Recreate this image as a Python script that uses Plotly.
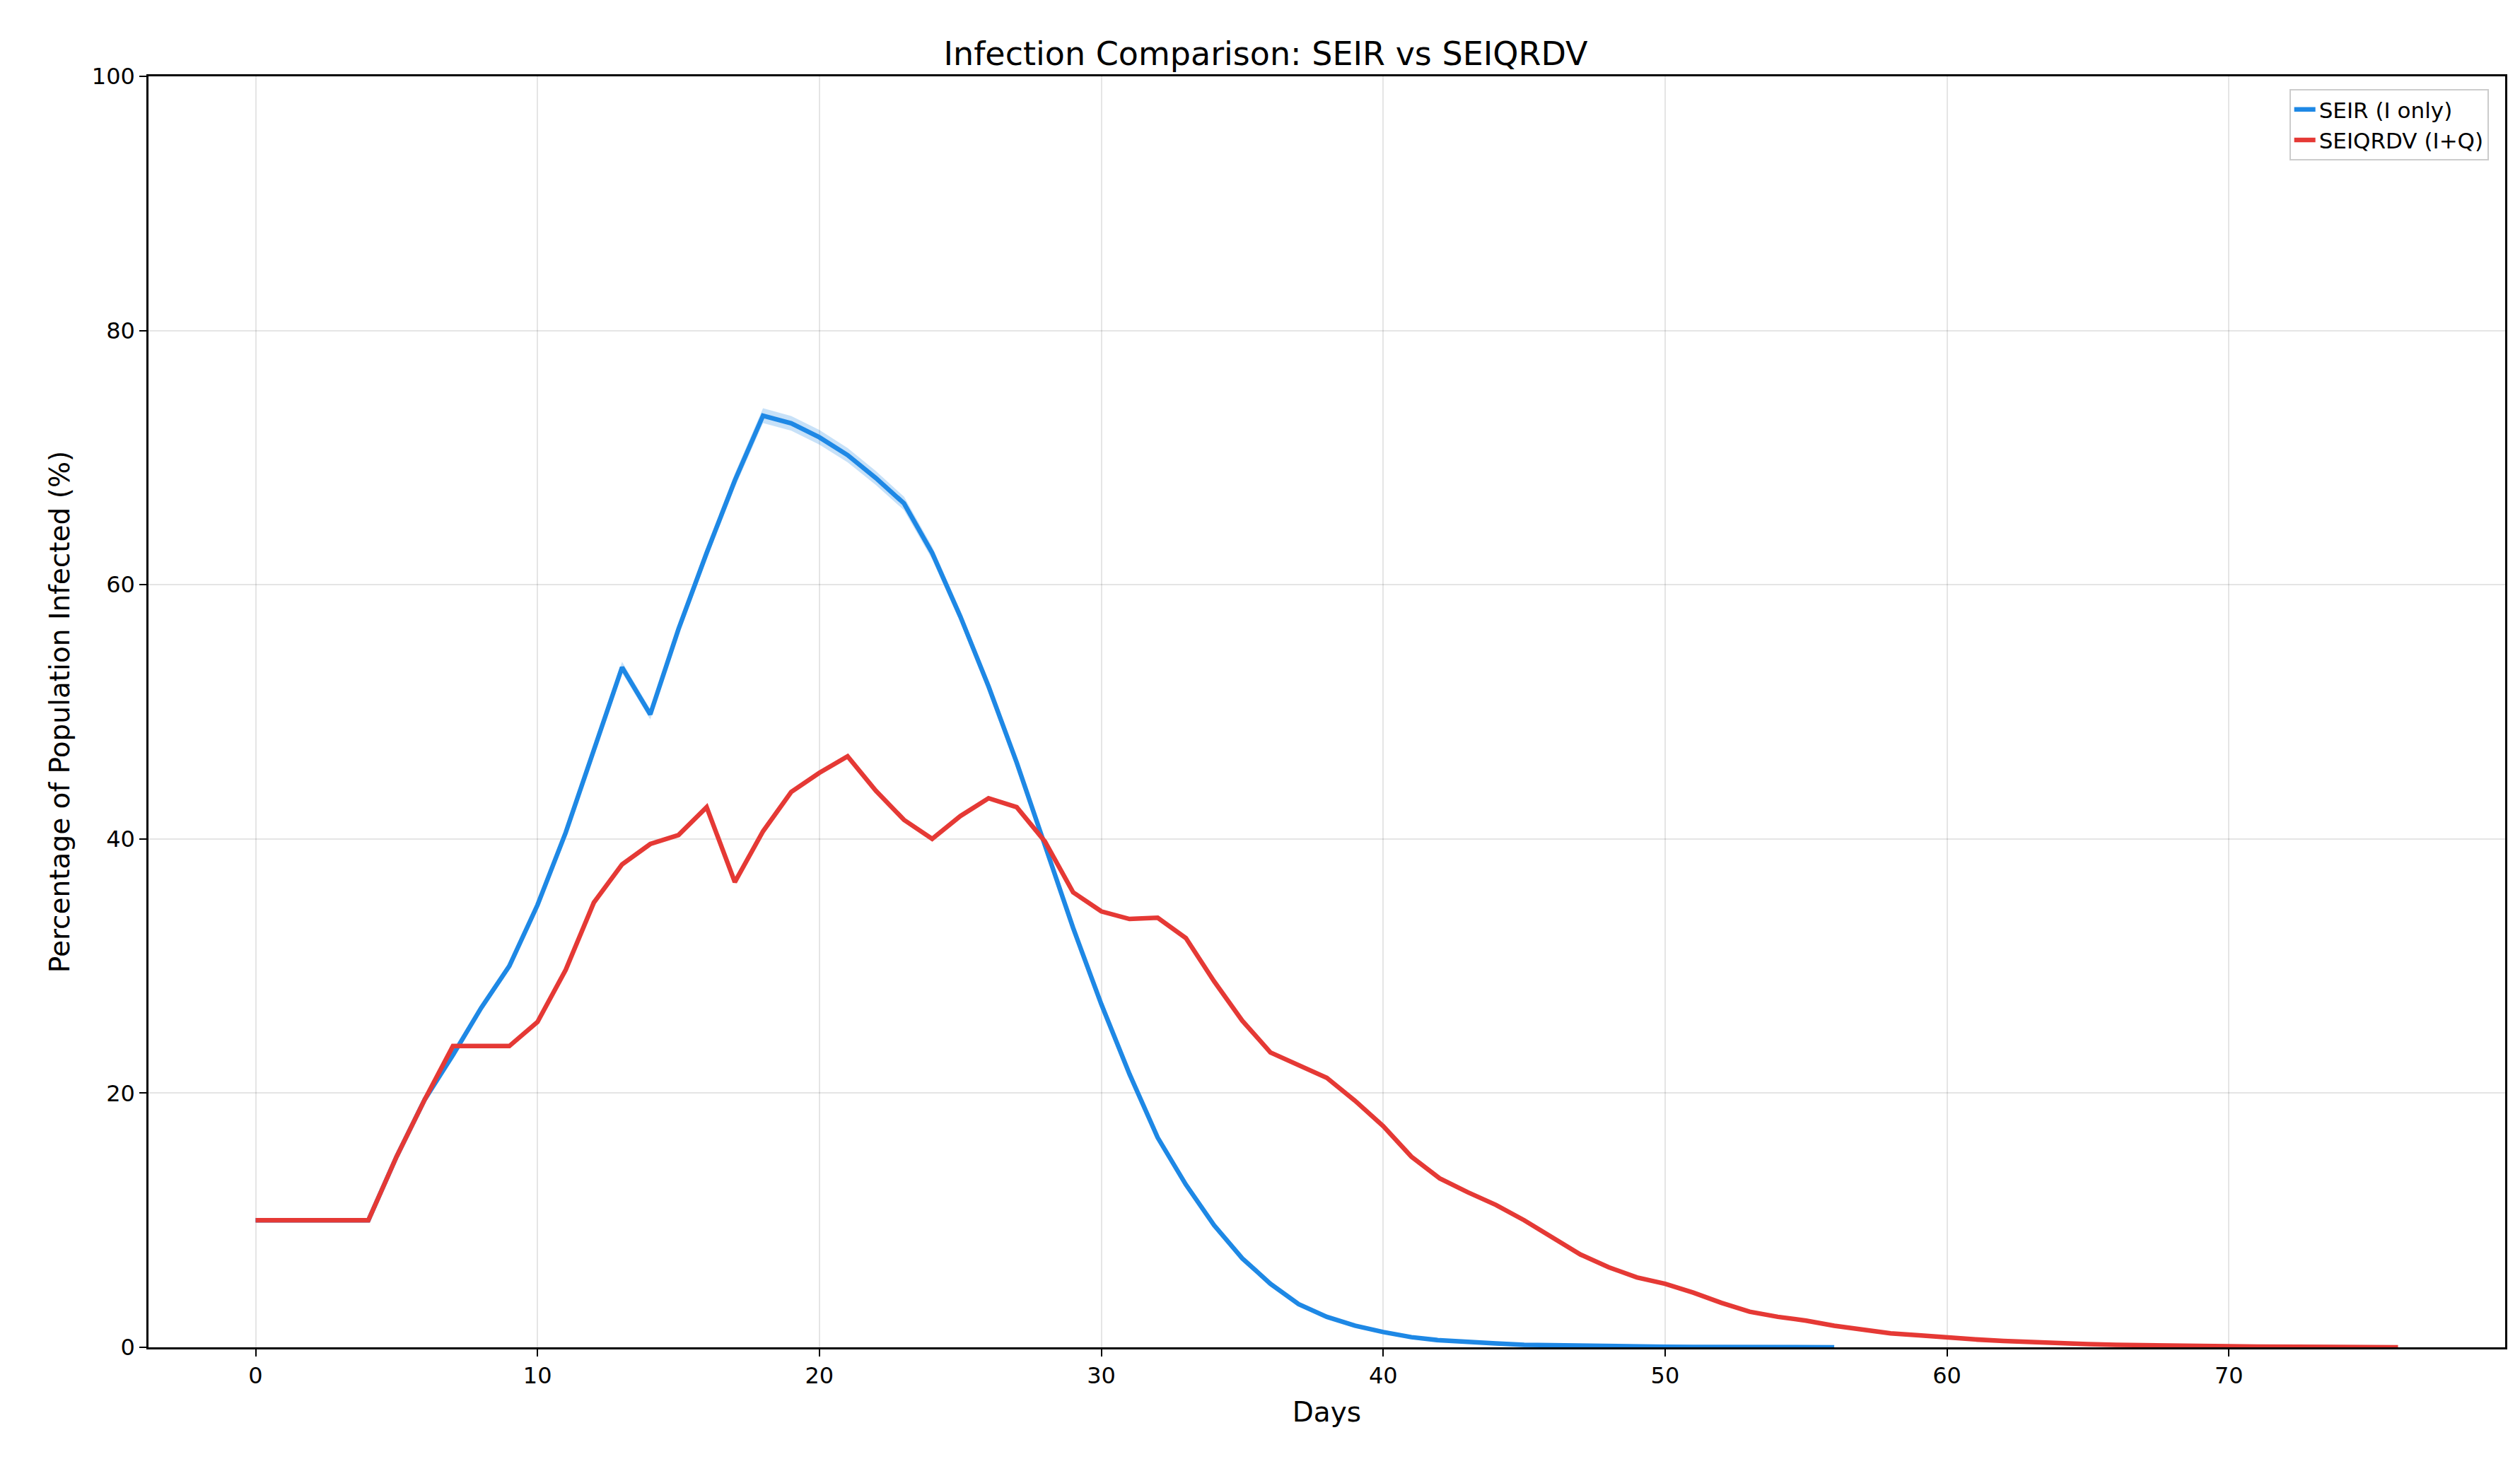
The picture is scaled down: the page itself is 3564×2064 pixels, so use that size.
import plotly.graph_objects as go

# SEIR infected (I only), % of population per day
seir_days = list(range(57))
seir_vals = [10, 10, 10, 10, 10, 15, 19.5, 23, 26.7, 30, 34.8, 40.5, 47, 53.5, 49.8,
             56.5, 62.5, 68.2, 73.3, 72.7, 71.6, 70.2, 68.4, 66.4, 62.5, 57.5, 52, 46,
             39.5, 33, 27, 21.5, 16.5, 12.8, 9.6, 7, 5, 3.4, 2.4, 1.7, 1.2, 0.8, 0.55,
             0.4, 0.3, 0.2, 0.15, 0.1, 0.08, 0.06, 0.04, 0.03, 0.02, 0.01, 0.01, 0.0, 0.0]

# SEIQRDV infected (I+Q)
seiq_days = list(range(77))
seiq_vals = [10, 10, 10, 10, 10, 15, 19.5, 23.7, 23.7, 23.7, 25.6, 29.7, 35, 38, 39.6,
             40.3, 42.5, 36.6, 40.6, 43.7, 45.2, 46.5, 43.8, 41.5, 40, 41.8, 43.2, 42.5,
             39.8, 35.8, 34.3, 33.7, 33.8, 32.2, 28.8, 25.7, 23.2, 22.2, 21.2, 19.4, 17.4,
             15, 13.3, 12.2, 11.2, 10, 8.6, 7.3, 6.3, 5.5, 5, 4.3, 3.5, 2.8, 2.4, 2.1, 1.7,
             1.4, 1.1, 0.95, 0.75, 0.62, 0.5, 0.4, 0.3, 0.25, 0.2, 0.15, 0.12, 0.1, 0.08,
             0.06, 0.04, 0.03, 0.02, 0.01, 0.0]

fig = go.Figure()
# faint band around SEIR
fig.add_trace(go.Scatter(x=seir_days, y=[v * 1.008 for v in seir_vals], mode='lines',
                         line=dict(width=0), showlegend=False, hoverinfo='skip'))
fig.add_trace(go.Scatter(x=seir_days, y=[v * 0.992 for v in seir_vals], mode='lines',
                         line=dict(width=0), fill='tonexty',
                         fillcolor='rgba(30,136,229,0.25)', showlegend=False, hoverinfo='skip'))
fig.add_trace(go.Scatter(x=seir_days, y=seir_vals, mode='lines', name='SEIR (I only)',
                         line=dict(color='#1e88e5', width=6.5)))
fig.add_trace(go.Scatter(x=seiq_days, y=seiq_vals, mode='lines', name='SEIQRDV (I+Q)',
                         line=dict(color='#e53935', width=6.5)))

axis_common = dict(showline=True, linecolor='black', linewidth=2.5, mirror=True,
                   ticks='outside', ticklen=10, tickwidth=2.3, tickcolor='black',
                   showgrid=True, gridcolor='rgba(0,0,0,0.1)', gridwidth=2,
                   zeroline=False, tickfont=dict(size=32, color='black'))

fig.update_layout(
    width=3564, height=2064,
    paper_bgcolor='white', plot_bgcolor='white',
    font=dict(family='DejaVu Sans', color='black'),
    margin=dict(l=202, r=29, t=100, b=166),
    title=dict(text='Infection Comparison: SEIR vs SEIQRDV', x=0.5, xanchor='center',
               y=0.975, font=dict(size=46)),
    xaxis=dict(title=dict(text='Days', font=dict(size=39), standoff=20),
               range=[-3.8, 79.8], tickvals=[0, 10, 20, 30, 40, 50, 60, 70], **axis_common),
    yaxis=dict(title=dict(text='Percentage of Population Infected (%)', font=dict(size=39), standoff=20),
               range=[0, 100], tickvals=[0, 20, 40, 60, 80, 100], **axis_common),
    legend=dict(x=0.993, y=0.99, xanchor='right', yanchor='top', font=dict(size=31),
                traceorder='normal',
                bgcolor='rgba(255,255,255,0.8)', bordercolor='#cccccc', borderwidth=2),
)

fig.write_html("out.html")
